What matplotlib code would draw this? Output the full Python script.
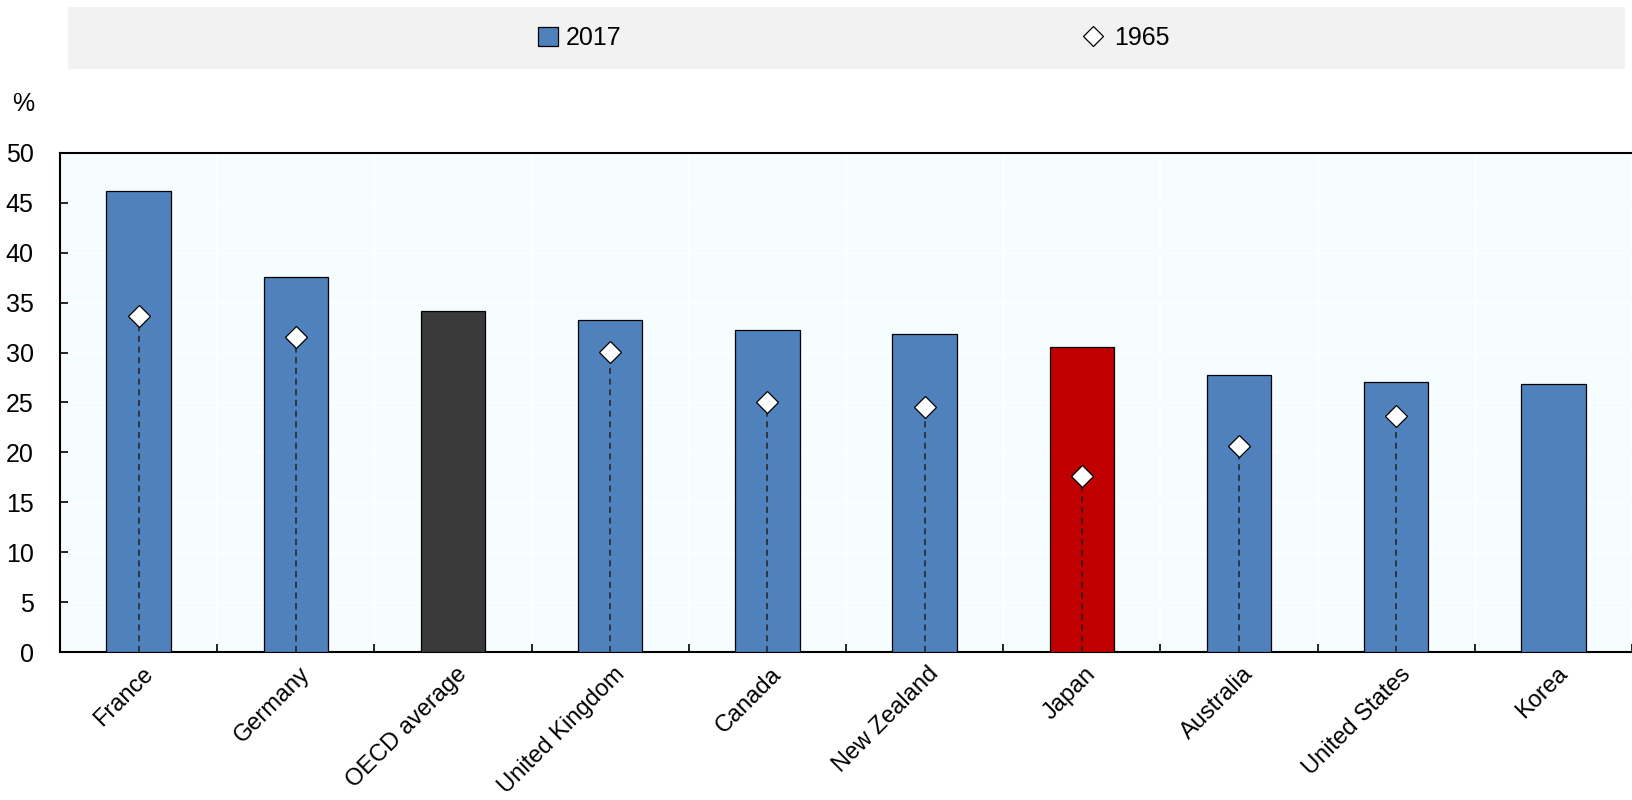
import matplotlib
matplotlib.use("Agg")
import matplotlib.pyplot as plt
import numpy as np
from matplotlib.lines import Line2D
from matplotlib.patches import Patch
from matplotlib import font_manager

categories = ["France", "Germany", "OECD average", "United Kingdom", "Canada",
              "New Zealand", "Japan", "Australia", "United States", "Korea"]
values_2017 = [46.2, 37.6, 34.2, 33.3, 32.3, 31.9, 30.6, 27.8, 27.1, 26.9]
values_1965 = [33.7, 31.6, None, 30.1, 25.0, 24.5, 17.6, 20.6, 23.6, None]
yticks = [0, 5, 10, 15, 20, 25, 30, 35, 40, 45, 50]

BLUE = "#4F81BD"
DARK = "#3A3A3A"
RED = "#C00000"
colors = [DARK if c == "OECD average" else RED if c == "Japan" else BLUE for c in categories]

names = {f.name for f in font_manager.fontManager.ttflist}
narrow = "Liberation Sans Narrow" in names
plt.rcParams['font.family'] = (['Liberation Sans Narrow'] if narrow else []) + ['Liberation Sans', 'DejaVu Sans']
FS = 20 if narrow else 18
CFS = 20 if narrow else 17
plt.rcParams['font.size'] = FS

fig = plt.figure(figsize=(16.32, 8.0), dpi=100)
ax = fig.add_axes([60/1632, 1 - 652/800, (1632-60)/1632, (652-153)/800])
ax.set_facecolor("#F6FDFE")

x = np.arange(len(categories))
ax.bar(x, values_2017, width=0.41, color=colors, edgecolor="black", linewidth=0.9, zorder=3)

for xi, v in zip(x, values_1965):
    if v is None:
        continue
    ax.plot([xi, xi], [0, v], color="#222222", linestyle=(0, (4, 3)), linewidth=1.1, zorder=4)
    ax.plot([xi], [v], marker="D", markersize=11, markerfacecolor="white",
            markeredgecolor="black", markeredgewidth=0.9, linestyle="none", zorder=5)

ax.set_xlim(-0.5, len(categories) - 0.5)
ax.set_ylim(0, 50)
ax.set_yticks(yticks)
ax.set_yticklabels([str(t) for t in yticks], fontsize=FS)

ax.set_xticks(np.arange(len(categories) + 1) - 0.5)
ax.set_xticklabels([])
ax.tick_params(axis="x", direction="in", length=6, width=1.2, color="black")
ax.tick_params(axis="y", direction="in", length=6, width=1.2, color="black", pad=19)

for xb in np.arange(len(categories)) + 0.5:
    ax.axvline(xb, color="white", linewidth=1.2, zorder=1)
for yt in yticks[1:]:
    ax.axhline(yt, color="white", linewidth=1.0, zorder=1)

for xi, lab in zip(x, categories):
    ax.text(xi + 0.02, -1.1, lab, rotation=45, ha="right", va="top",
            rotation_mode="anchor", fontsize=CFS)

for side in ["top", "bottom", "left"]:
    ax.spines[side].set_linewidth(1.5)
    ax.spines[side].set_color("black")
ax.spines["right"].set_visible(False)

fig.text(23/1632, 1 - 104/800, "%", fontsize=FS, ha="center", va="center")

# legend band
band = fig.add_axes([68/1632, 1 - 69/800, (1625-68)/1632, 62/800])
band.set_facecolor("#F2F2F2")
band.set_xticks([]); band.set_yticks([])
for s in band.spines.values():
    s.set_visible(False)

h2017 = Patch(facecolor=BLUE, edgecolor="black", linewidth=0.9, label="2017")
h1965 = Line2D([], [], marker="D", markersize=10, markerfacecolor="white",
               markeredgecolor="black", markeredgewidth=0.9, linestyle="none", label="1965")
leg1 = fig.legend(handles=[h2017], loc="center left", bbox_to_anchor=(538/1632, 1 - 38/800),
                  frameon=False, fontsize=FS, handlelength=0.8, handleheight=0.8,
                  handletextpad=0.3, borderpad=0, borderaxespad=0)
leg2 = fig.legend(handles=[h1965], loc="center left", bbox_to_anchor=(1082/1632, 1 - 38/800),
                  frameon=False, fontsize=FS, handlelength=0.9,
                  handletextpad=0.4, borderpad=0, borderaxespad=0)

fig.savefig("out.png", dpi=100)
